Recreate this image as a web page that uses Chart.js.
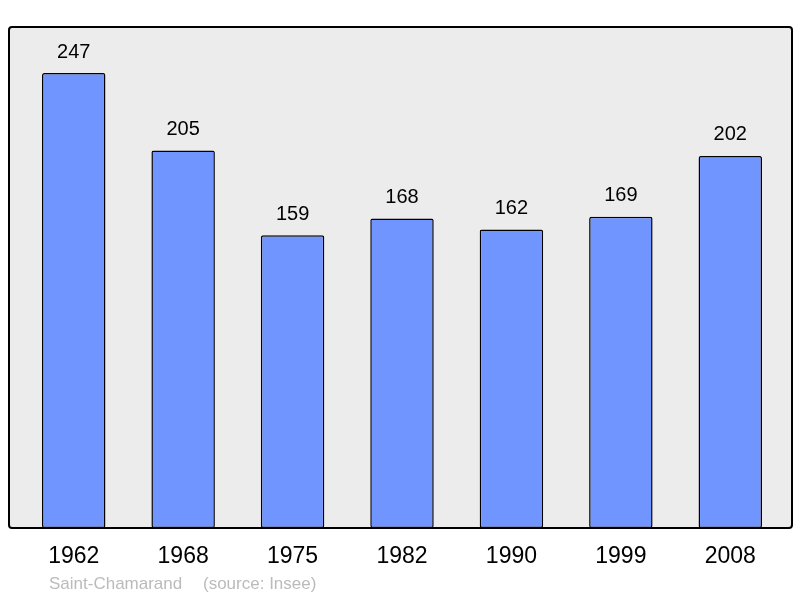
<!DOCTYPE html>
<html>
<head>
<meta charset="utf-8">
<script src="https://cdn.jsdelivr.net/npm/chart.js@4/dist/chart.umd.min.js"></script>
<style>
	body { margin: 0; background: #fff; }
	#wrap { width: 800px; height: 598px; }
</style>
</head>
<body>
<div id="wrap"><canvas id="popChart" width="800" height="598"></canvas></div>
<script>
let years = ['1962', '1968', '1975', '1982', '1990', '1999', '2008'];
let population = [247, 205, 159, 168, 162, 169, 202];
let commune = 'Saint-Chamarand';
let sourceText = '(source: Insee)';

// gray framed panel behind the bars, border drawn after them
let panelPlugin = {
	id: 'panel',
	beforeDatasetsDraw: function (chart) {
		let ctx = chart.ctx;
		ctx.save();
		ctx.beginPath();
		ctx.roundRect(9, 27, 783, 501, 3);
		ctx.fillStyle = '#ececec';
		ctx.fill();
		ctx.restore();
	},
	afterDatasetsDraw: function (chart) {
		let ctx = chart.ctx;
		let x = chart.scales.x;
		let y = chart.scales.y;
		ctx.save();
		ctx.beginPath();
		ctx.roundRect(9, 27, 783, 501, 3);
		ctx.lineWidth = 2;
		ctx.strokeStyle = '#000';
		ctx.stroke();

		ctx.fillStyle = '#000';
		ctx.textAlign = 'center';
		ctx.textBaseline = 'middle';
		ctx.font = '20px "Liberation Sans", Arial, sans-serif';
		population.forEach(function (v, i) {
			ctx.fillText(String(v), x.getPixelForValue(i), y.getPixelForValue(v) - 21);
		});

		ctx.font = '23px "Liberation Sans", Arial, sans-serif';
		years.forEach(function (yr, i) {
			ctx.fillText(yr, x.getPixelForValue(i), 557);
		});

		ctx.fillStyle = '#bbbbbb';
		ctx.textAlign = 'left';
		ctx.font = '17px "Liberation Sans", Arial, sans-serif';
		ctx.fillText(commune, 49, 584);
		ctx.fillText(sourceText, 203, 584);
		ctx.restore();
	}
};

let chart = new Chart('popChart', {
	type: 'bar',
	data: {
		labels: years,
		datasets: [{
			data: population,
			backgroundColor: '#7195ff',
			borderColor: '#000',
			borderWidth: 1.5,
			borderRadius: 2,
			borderSkipped: false,
			barPercentage: 0.58,
			categoryPercentage: 1
		}]
	},
	options: {
		responsive: false,
		animation: false,
		devicePixelRatio: 1,
		layout: { padding: { left: 19, right: 15, top: 27, bottom: 70 } },
		plugins: {
			legend: { display: false },
			tooltip: { enabled: false }
		},
		scales: {
			x: { display: false },
			y: { display: false, min: 0, max: 272 }
		}
	},
	plugins: [panelPlugin]
});
</script>
</body>
</html>
